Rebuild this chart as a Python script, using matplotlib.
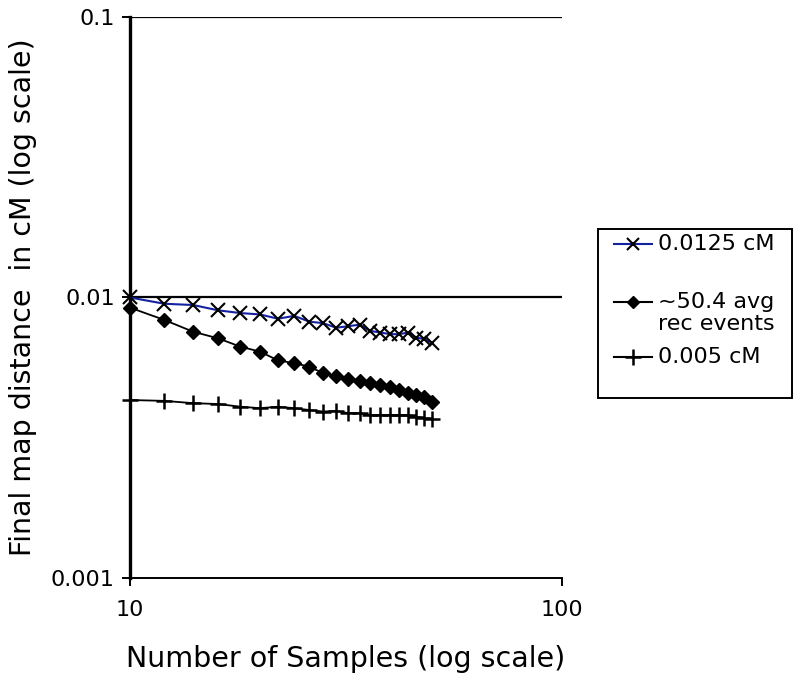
import matplotlib
matplotlib.use("Agg")
import matplotlib.pyplot as plt
from matplotlib.lines import Line2D
from matplotlib.patches import Rectangle
from matplotlib.ticker import NullLocator

# number of samples
samples = [10, 12, 14, 16, 18, 20, 22, 24, 26, 28, 30,
           32, 34, 36, 38, 40, 42, 44, 46, 48, 50]

# final map distance (cM) for each setting
dist_0125 = [0.0100, 0.0095, 0.0094, 0.0090, 0.0088, 0.0087, 0.0084, 0.0086,
             0.0082, 0.0081, 0.0078, 0.0079, 0.0080, 0.0076, 0.0075, 0.0074,
             0.0074, 0.0075, 0.0072, 0.0071, 0.0069]
dist_avg = [0.00920, 0.00832, 0.00755, 0.00715, 0.00668, 0.00641, 0.00597,
            0.00583, 0.00567, 0.00537, 0.00525, 0.00511, 0.00505, 0.00497,
            0.00488, 0.00481, 0.00468, 0.00458, 0.00449, 0.00441, 0.00425]
dist_005 = [0.00431, 0.00428, 0.00420, 0.00417, 0.00408, 0.00403, 0.00408,
            0.00403, 0.00397, 0.00392, 0.00394, 0.00387, 0.00387, 0.00381,
            0.00381, 0.00381, 0.00381, 0.00381, 0.00376, 0.00371, 0.00369]

x_ticks = [10, 100]
y_ticks = [0.001, 0.01, 0.1]
y_labels = ["0.001", "0.01", "0.1"]

blue = "#1422a0"


def main():
    fig = plt.figure(figsize=(8, 6.82), dpi=100)
    ax = fig.add_axes([0.1625, 0.1525, 0.54, 0.8226])

    ax.set_xscale("log")
    ax.set_yscale("log")
    ax.set_xlim(10, 100)
    ax.set_ylim(0.001, 0.1)

    # horizontal gridlines at the decades
    for yv in y_ticks[1:]:
        ax.axhline(yv, color="black", lw=1.6, zorder=1)

    ax.plot(samples, dist_0125, color=blue, lw=1.5, marker="x", ms=10,
            mew=1.5, mec="black", clip_on=False, zorder=3)
    ax.plot(samples, dist_avg, color="black", lw=1.3, marker="D", ms=7,
            mfc="black", mec="black", clip_on=False, zorder=3)
    ax.plot(samples, dist_005, color="black", lw=1.3, marker="+", ms=11,
            mew=1.8, clip_on=False, zorder=3)

    ax.spines["top"].set_visible(False)
    ax.spines["right"].set_visible(False)
    ax.spines["left"].set_linewidth(2.4)
    ax.spines["bottom"].set_linewidth(1.4)

    ax.set_xticks(x_ticks)
    ax.set_xticklabels([str(v) for v in x_ticks])
    ax.set_yticks(y_ticks)
    ax.set_yticklabels(y_labels)
    ax.xaxis.set_minor_locator(NullLocator())
    ax.yaxis.set_minor_locator(NullLocator())
    ax.tick_params(axis="both", direction="out", length=6, width=1.4,
                   labelsize=16, colors="black")
    ax.tick_params(axis="y", pad=5)
    ax.tick_params(axis="x", pad=10)

    ax.set_xlabel("Number of Samples (log scale)", fontsize=20.5, labelpad=18)
    ax.set_ylabel("Final map distance  in cM (log scale)", fontsize=20.5,
                  labelpad=10)

    # legend box drawn by hand (Excel style layout)
    fig.add_artist(Rectangle((0.7475, 0.4164), 0.2425, 0.2478,
                             transform=fig.transFigure, fill=False,
                             lw=1.4, edgecolor="black"))
    hx = [0.7675, 0.815]
    entries = [
        (0.6422, dict(color=blue, marker="x", ms=8, mew=1.5, mec="black"),
         ["0.0125 cM"]),
        (0.5572, dict(color="black", marker="D", ms=6, mfc="black"),
         ["~50.4 avg", "rec events"]),
        (0.4765, dict(color="black", marker="+", ms=11, mew=1.8),
         ["0.005 cM"]),
    ]
    for y, style, lines in entries:
        fig.add_artist(Line2D(hx, [y, y], lw=1.5, color=style["color"],
                              transform=fig.transFigure))
        marker_style = {k: v for k, v in style.items() if k != "color"}
        fig.add_artist(Line2D([sum(hx) / 2], [y], lw=0, color=style["color"],
                              transform=fig.transFigure, **marker_style))
        for i, txt in enumerate(lines):
            fig.text(0.8225, y - i * 0.0323, txt, fontsize=16,
                     va="center", ha="left")

    fig.savefig("out.png", dpi=100)


if __name__ == "__main__":
    main()
